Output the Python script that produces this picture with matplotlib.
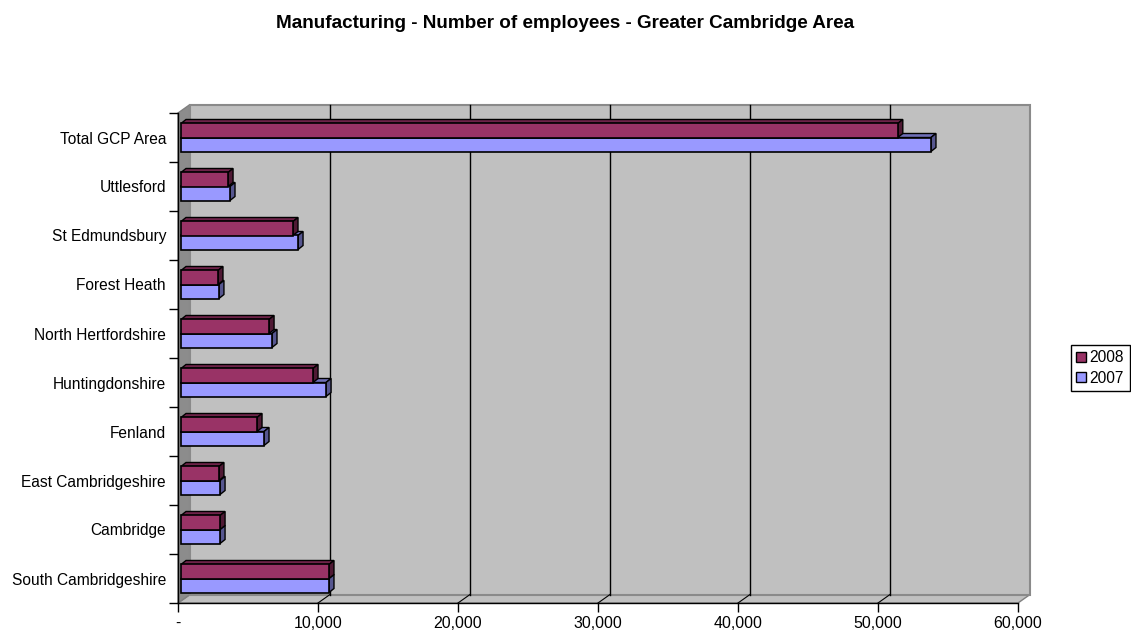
import matplotlib.pyplot as plt
import matplotlib.transforms as mtransforms
from matplotlib.patches import Polygon, Patch

plt.rcParams['font.family'] = ['Liberation Sans', 'DejaVu Sans']

districts = ['South Cambridgeshire', 'Cambridge', 'East Cambridgeshire', 'Fenland',
             'Huntingdonshire', 'North Hertfordshire', 'Forest Heath', 'St Edmundsbury',
             'Uttlesford', 'Total GCP Area']
emp_2008 = [10570, 2790, 2710, 5430, 9430, 6290, 2640, 8000, 3360, 51200]
emp_2007 = [10570, 2790, 2790, 5930, 10360, 6500, 2710, 8360, 3500, 53570]
xticks = [0, 10000, 20000, 30000, 40000, 50000, 60000]
xtick_labels = ['-', '10,000', '20,000', '30,000', '40,000', '50,000', '60,000']

c2008, c2008_top, c2008_side = '#993366', '#6e2349', '#4f1934'
c2007, c2007_top, c2007_side = '#9999ff', '#6f6fb8', '#56568f'

fig = plt.figure(figsize=(11.31, 6.34), dpi=100)
W, H = 1131, 634
# front plane of the 3d box
ax = fig.add_axes([178 / W, (H - 603) / H, 840 / W, 490 / H])
ax.set_xlim(0, 60000)
ax.set_ylim(-0.5, 9.5)
ax.patch.set_visible(False)
for s in ax.spines.values():
    s.set_visible(False)

# depth of the box in data units (12 px right, 8.5 px up)
DX = 60000 * 12 / 840
DY = 8.5 / 49

back = mtransforms.offset_copy(ax.transData, fig, x=12, y=8.5, units='dots')

# walls and floor
ax.add_patch(Polygon([(0, -0.5), (60000, -0.5), (60000 + DX, -0.5 + DY), (DX, -0.5 + DY)],
                     closed=True, fc='#c0c0c0', ec='#808080', lw=1, clip_on=False, zorder=0))
ax.add_patch(Polygon([(0, -0.5), (0, 9.5), (DX, 9.5 + DY), (DX, -0.5 + DY)],
                     closed=True, fc='#8c8c8c', ec='#808080', lw=1, clip_on=False, zorder=0))
ax.add_patch(plt.Rectangle((0, -0.5), 60000, 10, transform=back, fc='#c0c0c0',
                           ec='#8a8a8a', lw=1.5, clip_on=False, zorder=0))
for x in xticks[1:-1]:
    ax.plot([x, x], [-0.5, 9.5], transform=back, color='black', lw=1, clip_on=False, zorder=1)
    ax.plot([x, x + DX], [-0.5, -0.5 + DY], color='black', lw=0.8, clip_on=False, zorder=1)

# axis lines
ax.plot([0, 0], [-0.5, 9.5], color='black', lw=1, clip_on=False, zorder=2)
ax.plot([0, 60000], [-0.5, -0.5], color='black', lw=1, clip_on=False, zorder=2)

# bars: front faces plus top and right faces
bar_t = mtransforms.offset_copy(ax.transData, fig, x=3, y=0, units='dots')
h = 0.286
bx, by = 5 * 60000 / 840, 4 / 49


def draw_bars(vals, offs, face, top, side):
    for i, v in enumerate(vals):
        y0 = i + offs - h / 2
        ax.add_patch(Polygon([(0, y0 + h), (v, y0 + h), (v + bx, y0 + h + by), (bx, y0 + h + by)],
                             closed=True, fc=top, ec='black', lw=1, transform=bar_t,
                             clip_on=False, zorder=3))
        ax.add_patch(Polygon([(v, y0), (v, y0 + h), (v + bx, y0 + h + by), (v + bx, y0 + by)],
                             closed=True, fc=side, ec='black', lw=1, transform=bar_t,
                             clip_on=False, zorder=3))
    ax.barh([i + offs for i in range(len(vals))], vals, height=h, color=face,
            edgecolor='black', lw=1.2, transform=bar_t, clip_on=False, zorder=4)


draw_bars(emp_2007, -h / 2, c2007, c2007_top, c2007_side)
draw_bars(emp_2008, h / 2, c2008, c2008_top, c2008_side)

ax.set_yticks(range(len(districts)))
ax.set_yticklabels(districts, fontsize=11.2)
ax.set_yticks([i - 0.5 for i in range(len(districts) + 1)], minor=True)
ax.tick_params(axis='y', which='major', length=0, pad=8.6)
ax.tick_params(axis='y', which='minor', length=6.5, width=1, direction='out')
ax.set_xticks(xticks)
ax.set_xticklabels(xtick_labels, fontsize=11.5)
ax.tick_params(axis='x', length=6.5, width=1, direction='out', pad=3)

fig.text(0.5, 1 - 23 / H, 'Manufacturing - Number of employees - Greater Cambridge Area',
         ha='center', va='center', fontsize=13.6, fontweight='bold')

handles = [Patch(fc=c2008, ec='black', lw=1, label='2008'),
           Patch(fc=c2007, ec='black', lw=1, label='2007')]
fig.legend(handles=handles, loc='center left', bbox_to_anchor=(1071 / W, 1 - 368 / H),
           fontsize=11.2, frameon=True, fancybox=False, edgecolor='black', framealpha=1,
           handlelength=0.6, handleheight=0.6, handletextpad=0.25, borderpad=0.35,
           labelspacing=0.35, borderaxespad=0)

fig.savefig('out.png', dpi=100)
